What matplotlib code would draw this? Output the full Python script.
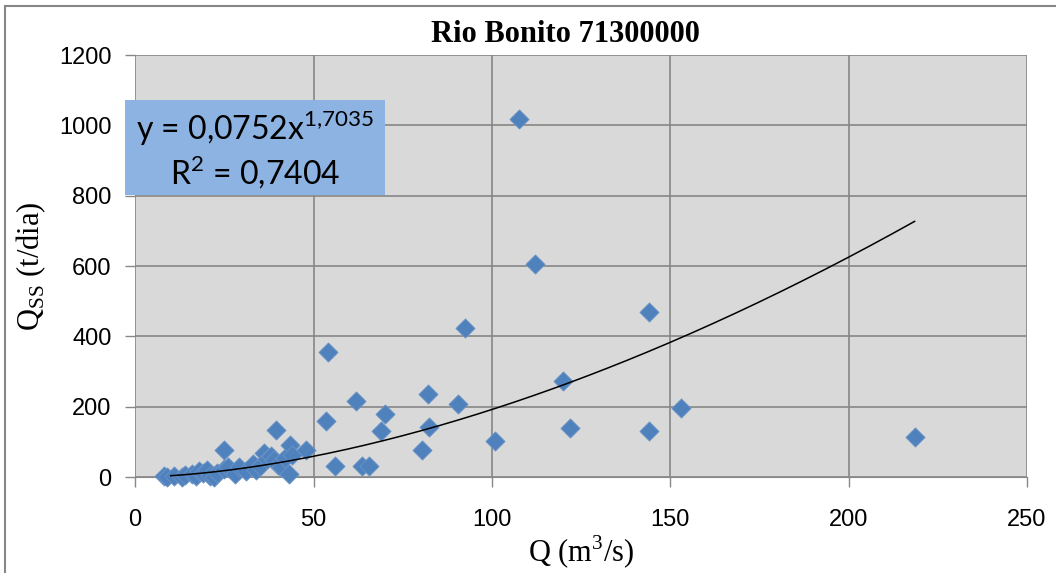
import matplotlib
matplotlib.use("Agg")
import matplotlib.pyplot as plt
import numpy as np
from matplotlib.patches import Rectangle

# discharge Q (m3/s) and sediment load Qss (t/dia)
q = [8, 9, 11, 13, 14, 16, 17, 18, 19, 20, 21, 22, 23, 25, 25, 26, 28, 29,
     31, 33, 34, 35, 36, 37, 38, 39, 39.5, 40, 41, 42, 43, 43.5, 44, 48,
     53.5, 54, 56, 62, 63.5, 65.5, 69, 70, 80.5, 82, 82.5, 90.5, 92.5, 101,
     107.5, 112, 120, 122, 144, 144, 153, 218.5]
qss = [2, 0, 4, 1, 6, 10, 3, 18, 12, 20, 4, 1, 12, 78, 22, 28, 8, 28,
       18, 38, 20, 30, 68, 50, 60, 48, 134, 35, 28, 55, 10, 92, 62, 78,
       160, 355, 30, 217, 30, 31, 131, 180, 77, 236, 143, 209, 423, 103,
       1018, 607, 272, 139, 468, 132, 196, 114]

# power trendline coefficients
coef_a = 0.0752
coef_b = 1.7035
r2 = 0.7404

fig = plt.figure(figsize=(10.56, 5.73), dpi=100)
ax = fig.add_axes([0.128, 0.1675, 0.8445, 0.7365])
ax.set_facecolor("#d9d9d9")

ax.scatter(q, qss, marker="D", s=95, color="#4f81bd", edgecolors="#6b93c7",
           linewidths=0.6, zorder=3, clip_on=False)

xt = np.linspace(10, max(q), 200)
ax.plot(xt, coef_a * xt ** coef_b, color="black", lw=1.1, zorder=4)

ax.set_xlim(0, 250)
ax.set_ylim(0, 1200)
ax.set_xticks(range(0, 251, 50))
ax.set_yticks(range(0, 1201, 200))
ax.grid(True, color="#878787", lw=1.2)
ax.set_axisbelow(True)
for s in ["top", "right", "left"]:
    ax.spines[s].set_visible(False)
ax.spines["bottom"].set_color("#878787")
ax.tick_params(axis="both", colors="#878787", length=7, width=1,
               labelcolor="black", labelsize=17)
ax.tick_params(axis="y", pad=10)
ax.tick_params(axis="x", pad=16)
for lab in ax.get_xticklabels() + ax.get_yticklabels():
    lab.set_family("Liberation Sans")

ax.set_xlabel(r"Q (m$^\mathregular{3}$/s)", family="Liberation Serif",
              fontsize=22, labelpad=2)
ax.set_ylabel(r"Q$_\mathregular{SS}$ (t/dia)", family="Liberation Serif",
              fontsize=22, labelpad=8)

fig.text(0.5355, 0.94, "Rio Bonito 71300000", family="Liberation Serif",
         weight="bold", fontsize=22, ha="center", va="center")

# equation box
fig.patches.append(Rectangle((0.1184, 0.6597), 0.246, 0.166,
                             transform=fig.transFigure, facecolor="#8db3e2",
                             edgecolor="none", zorder=5))
fig.text(0.2415, 0.776, r"y = 0,0752x$^{\mathregular{1{,}7035}}$",
         family="Lato", fontsize=23, ha="center", va="center", zorder=6)
fig.text(0.2415, 0.700, r"R$^{\mathregular{2}}$ = 0,7404", family="Lato",
         fontsize=23, ha="center", va="center", zorder=6)

# chart border
fig.patches.append(Rectangle((0.005, -0.1), 1.1, 1.0895,
                             transform=fig.transFigure, fill=False,
                             edgecolor="#878787", lw=1.5))

fig.savefig("out.png", dpi=100)
